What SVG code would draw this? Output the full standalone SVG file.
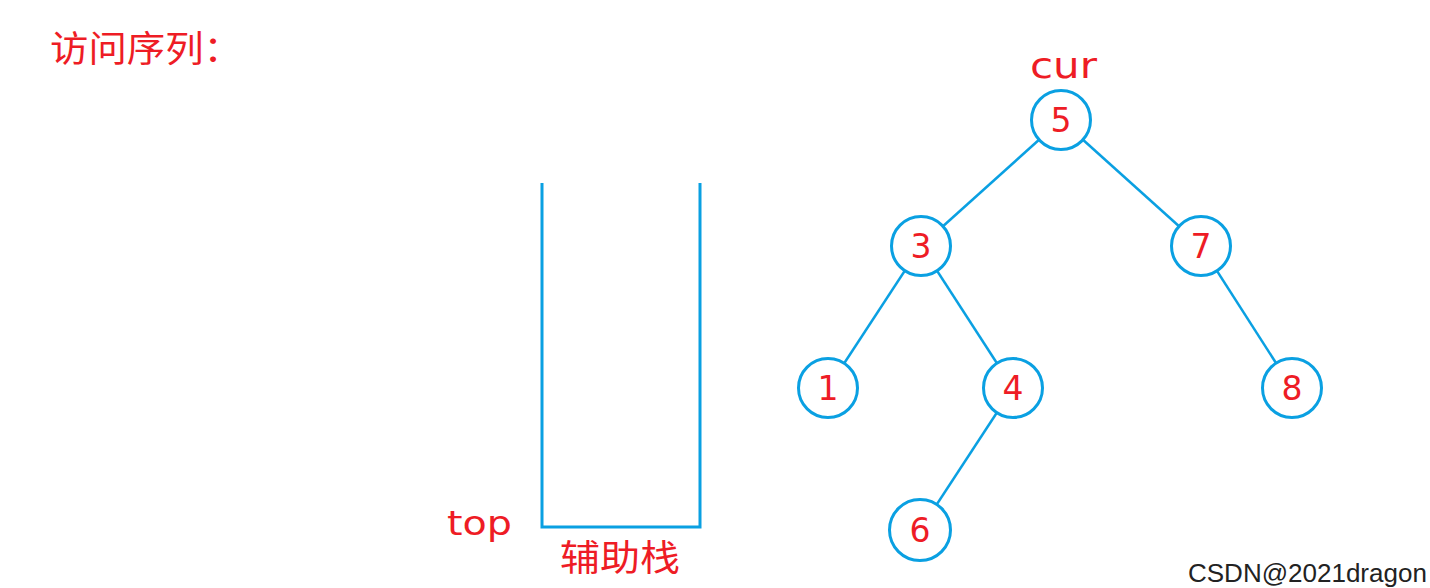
<svg xmlns="http://www.w3.org/2000/svg" width="1430" height="588" viewBox="0 0 1430 588">
<style>
.edge{stroke:#0aa0e2;stroke-width:2.5;fill:none}
.node circle{fill:#fff;stroke:#0aa0e2;stroke-width:3}
.node text{fill:#ee1c25;font-family:"DejaVu Sans","Liberation Sans",sans-serif;font-size:33px;text-anchor:middle}
.lbl{fill:#ee1c25;font-family:"DejaVu Sans","Liberation Sans",sans-serif}
.cjk{fill:#ee1c25;font-family:"Noto Sans CJK SC",sans-serif;font-size:36px}
</style>
<rect width="1430" height="588" fill="#fff"/>
<text class="cjk" x="50" y="62" textLength="192" lengthAdjust="spacingAndGlyphs">访问序列：</text>
<g id="stack">
<path d="M542 183 V527 H700 V183" fill="none" stroke="#0aa0e2" stroke-width="3"/>
</g>
<text class="lbl" x="447" y="535" font-size="33" textLength="65" lengthAdjust="spacingAndGlyphs">top</text>
<text class="cjk" x="560" y="571" textLength="120" lengthAdjust="spacingAndGlyphs">辅助栈</text>
<text class="lbl" x="1030" y="78" font-size="35" textLength="67" lengthAdjust="spacingAndGlyphs">cur</text>
<g id="edges">
<line class="edge" x1="1061" y1="120" x2="921" y2="246"/>
<line class="edge" x1="1061" y1="120" x2="1201" y2="246"/>
<line class="edge" x1="921" y1="246" x2="828" y2="388"/>
<line class="edge" x1="921" y1="246" x2="1013" y2="388"/>
<line class="edge" x1="1201" y1="246" x2="1292" y2="388"/>
<line class="edge" x1="1013" y1="388" x2="920" y2="530"/>
</g>
<g id="n5" class="node"><circle cx="1061" cy="120" r="29.5"/><text x="1061" y="132">5</text></g>
<g id="n3" class="node"><circle cx="921" cy="246" r="29.5"/><text x="921" y="258">3</text></g>
<g id="n7" class="node"><circle cx="1201" cy="246" r="29.5"/><text x="1201" y="258">7</text></g>
<g id="n1" class="node"><circle cx="828" cy="388" r="29.5"/><text x="828" y="400">1</text></g>
<g id="n4" class="node"><circle cx="1013" cy="388" r="29.5"/><text x="1013" y="400">4</text></g>
<g id="n8" class="node"><circle cx="1292" cy="388" r="29.5"/><text x="1292" y="400">8</text></g>
<g id="n6" class="node"><circle cx="920" cy="530" r="30.5"/><text x="920" y="542">6</text></g>
<text x="1188" y="582" font-family="Liberation Sans,Arial,sans-serif" font-size="26" fill="#222">CSDN@2021dragon</text>
</svg>
